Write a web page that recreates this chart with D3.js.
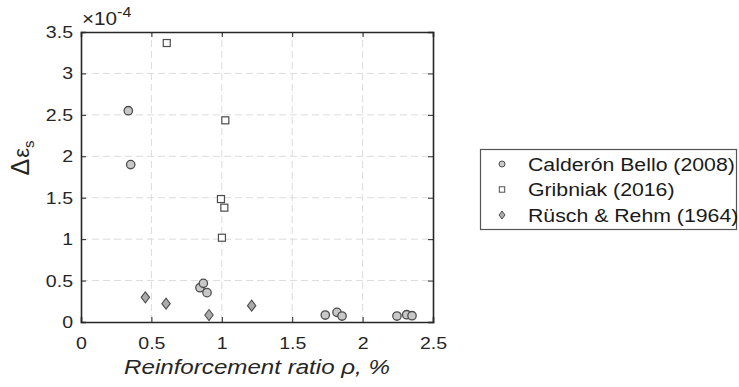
<!DOCTYPE html>
<html>
<meta charset="utf-8">
<style>
  body { margin: 0; background: #fff; }
  svg { font-family: "Liberation Sans", Arial, sans-serif; }
  .axis path, .axis line { stroke: #262626; }
  .axis text { fill: #262626; font-size: 17px; }
</style>
<svg width="739" height="387"></svg>
<script src="https://d3js.org/d3.v7.min.js"></script>
<script>
  // text in the reference looks a bit wide
  var sx = 1.15;

  var xTicks = [0, 0.5, 1, 1.5, 2, 2.5];
  var yTicks = [0, 0.5, 1, 1.5, 2, 2.5, 3, 3.5];

  // Calderón Bello (2008)
  var calderonX = [0.336, 0.353, 0.845, 0.869, 0.895, 1.735, 1.818, 1.854, 2.244, 2.313, 2.351];
  var calderonY = [2.55, 1.90, 0.414, 0.467, 0.354, 0.084, 0.117, 0.072, 0.072, 0.088, 0.076];
  // Gribniak (2016)
  var gribniakX = [0.609, 1.025, 0.994, 1.018, 1.001];
  var gribniakY = [3.367, 2.434, 1.484, 1.38, 1.017];
  // Rüsch & Rehm (1964)
  var ruschX = [0.457, 0.604, 0.909, 1.212];
  var ruschY = [0.298, 0.221, 0.084, 0.197];

  var seriesNames = ["Calderón Bello (2008)", "Gribniak (2016)", "Rüsch & Rehm (1964)"];

  var svg = d3.select("svg");
  var margin = { left: 81, top: 32, right: 306, bottom: 65 };
  var width = 739 - margin.left - margin.right,
    height = 387 - margin.top - margin.bottom;

  var x = d3.scaleLinear().domain([0, 2.5]).range([margin.left, margin.left + width]);
  var y = d3.scaleLinear().domain([0, 3.5]).range([margin.top + height, margin.top]);

  // grid
  var grid = svg.append("g").attr("stroke", "#dcdcdc").attr("stroke-dasharray", "7,4").attr("stroke-width", 1);
  grid.selectAll(".gx").data(xTicks.slice(1, -1)).enter().append("line")
    .attr("x1", d => x(d)).attr("x2", d => x(d))
    .attr("y1", y(0)).attr("y2", y(3.5));
  grid.selectAll(".gy").data(yTicks.slice(1, -1)).enter().append("line")
    .attr("x1", x(0)).attr("x2", x(2.5))
    .attr("y1", d => y(d)).attr("y2", d => y(d));

  // axes, ticks pointing inward
  var gx = svg.append("g").attr("class", "axis")
    .attr("transform", "translate(0," + y(0) + ")")
    .call(d3.axisBottom(x).tickValues(xTicks).tickSize(-5).tickPadding(18).tickFormat(d3.format("")));
  var gy = svg.append("g").attr("class", "axis")
    .attr("transform", "translate(" + x(0) + ",0)")
    .call(d3.axisLeft(y).tickValues(yTicks).tickSize(-5).tickPadding(9).tickFormat(d3.format("")));
  svg.append("g").attr("class", "axis")
    .attr("transform", "translate(0," + y(3.5) + ")")
    .call(d3.axisTop(x).tickValues(xTicks).tickSize(-5).tickFormat(""));
  svg.append("g").attr("class", "axis")
    .attr("transform", "translate(" + x(2.5) + ",0)")
    .call(d3.axisRight(y).tickValues(yTicks).tickSize(-5).tickFormat(""));
  svg.selectAll(".axis .domain").attr("stroke-width", 1.6);
  gx.selectAll("text").attr("transform", "scale(" + sx + ",1)").attr("dy", "0.55em");
  gy.selectAll("text").attr("x", -8 / sx).attr("transform", "scale(" + sx + ",1)");

  // exponent
  var ex = svg.append("text").attr("transform", "translate(" + (x(0) + 1) + ",25) scale(" + sx + ",1)")
    .attr("fill", "#262626").attr("font-size", 18);
  ex.append("tspan").text("×10");
  ex.append("tspan").attr("font-size", 14).attr("dy", -8).text("-4");

  // labels
  svg.append("text")
    .attr("transform", "translate(" + (x(0) + x(2.5)) / 2 + ",374) scale(" + sx + ",1)")
    .attr("text-anchor", "middle").attr("font-size", 21).attr("font-style", "italic").attr("fill", "#262626")
    .text("Reinforcement ratio ρ, %");
  var yl = svg.append("text")
    .attr("transform", "translate(29,158) rotate(-90)")
    .attr("text-anchor", "middle").attr("font-size", 25).attr("fill", "#262626");
  yl.append("tspan").text("Δ");
  yl.append("tspan").attr("font-size", 22).attr("dx", 1).text("ε");
  yl.append("tspan").attr("font-size", 15).attr("dy", 5).text("s");

  // markers
  var stroke = "#4d4d4d", fillGray = "#c8c8c8";
  var pts = svg.append("g");
  pts.selectAll(".c").data(d3.zip(calderonX, calderonY)).enter().append("circle")
    .attr("cx", d => x(d[0])).attr("cy", d => y(d[1])).attr("r", 4.2)
    .attr("fill", fillGray).attr("stroke", stroke).attr("stroke-width", 1.3);
  pts.selectAll(".s").data(d3.zip(gribniakX, gribniakY)).enter().append("rect")
    .attr("x", d => x(d[0]) - 3.5).attr("y", d => y(d[1]) - 3.5).attr("width", 7).attr("height", 7)
    .attr("fill", "#fff").attr("stroke", stroke).attr("stroke-width", 1.2);
  var diamond = "M0,-5.5L4.2,0L0,5.5L-4.2,0Z";
  pts.selectAll(".d").data(d3.zip(ruschX, ruschY)).enter().append("path")
    .attr("transform", d => "translate(" + x(d[0]) + "," + y(d[1]) + ")")
    .attr("d", diamond).attr("fill", "#ababab").attr("stroke", stroke).attr("stroke-width", 1.1);

  // legend
  var lg = svg.append("g");
  lg.append("rect").attr("x", 480.5).attr("y", 149.5).attr("width", 256).attr("height", 80)
    .attr("fill", "#fff").attr("stroke", "#555").attr("stroke-width", 1.2);
  var rows = lg.selectAll(".row").data(seriesNames).enter().append("g")
    .attr("transform", (d, i) => "translate(502," + (164 + i * 25.5) + ")");
  rows.each(function (d, i) {
    var g = d3.select(this);
    if (i === 0) g.append("circle").attr("r", 3).attr("fill", fillGray).attr("stroke", stroke).attr("stroke-width", 1);
    if (i === 1) g.append("rect").attr("x", -2.7).attr("y", -2.7).attr("width", 5.4).attr("height", 5.4)
      .attr("fill", "#fff").attr("stroke", stroke).attr("stroke-width", 1);
    if (i === 2) g.append("path").attr("d", "M0,-4L3,0L0,4L-3,0Z").attr("fill", "#ababab").attr("stroke", stroke).attr("stroke-width", 1);
  });
  rows.append("text").attr("transform", "translate(26,6.5) scale(" + sx + ",1)")
    .attr("font-size", 18.5).attr("fill", "#1a1a1a").text(d => d);
</script>
</html>
